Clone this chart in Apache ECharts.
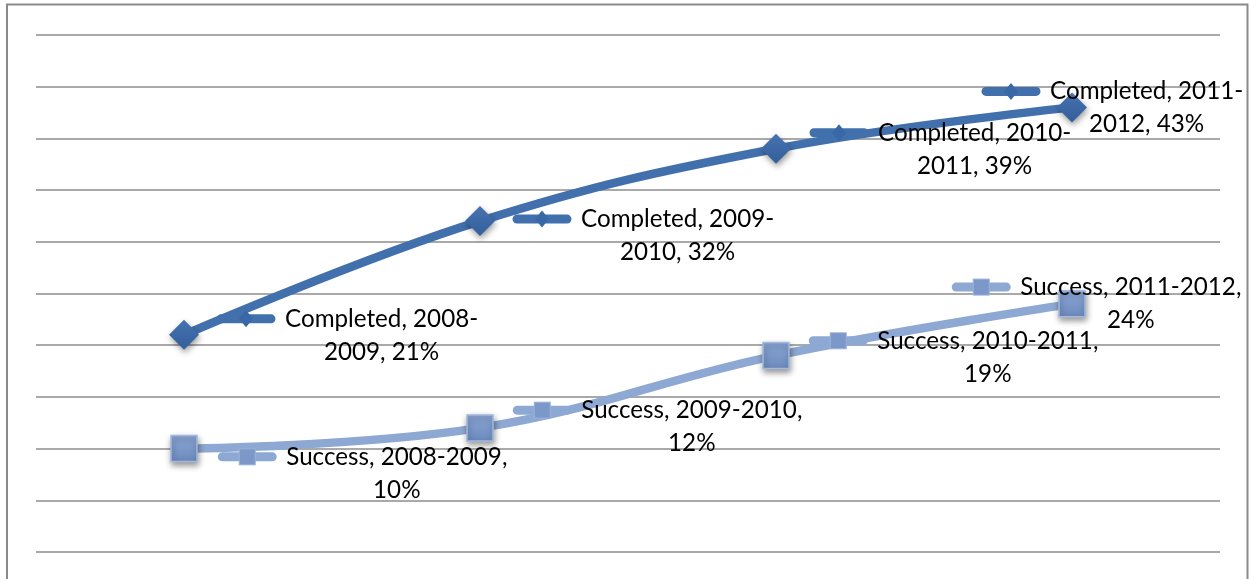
<!DOCTYPE html>
<html><head><meta charset="utf-8">
<script src="https://cdn.jsdelivr.net/npm/echarts@6.0.0/dist/echarts.min.js"></script>
<style>html,body{margin:0;padding:0;background:#fff}#c{width:1250px;height:579px}</style>
</head><body><div id="c"></div>
<script>
// ---- data ----
const categories = ['2008-2009', '2009-2010', '2010-2011', '2011-2012'];
const seriesNames = ['Completed', 'Success'];
const completedValues = [21, 32, 39, 43];
const successValues = [10, 12, 19, 24];
const yMin = 0, yMax = 50, yInterval = 5;

// ---- layout (label offsets from the point: key left edge x, first line centre y) ----
const completedLabelOffsets = [[31, -16], [31, -2], [32, -16], [-92, -16]];
const successLabelOffsets = [[33, 9], [32, -17], [32, -14], [-121, -16]];

const C_LINE = '#4170ad', C_MARK = '#3a68a6';
const S_LINE = '#8da8d2', S_MARK = '#7b98c9';
const FONT = 'Lato';
const FS = 24.2, LH = 33;
const C_SYM = 30, S_SYM = 26;

function svgUrl(s) { return 'data:image/svg+xml;charset=utf-8,' + encodeURIComponent(s); }
const keyCompleted = svgUrl('<svg xmlns="http://www.w3.org/2000/svg" width="62" height="20"><line x1="6" y1="10" x2="56" y2="10" stroke="' + C_LINE + '" stroke-width="9" stroke-linecap="round"/><polygon points="31,1.5 38,10 31,18.5 24,10" fill="' + C_MARK + '"/></svg>');
const keySuccess = svgUrl('<svg xmlns="http://www.w3.org/2000/svg" width="62" height="20"><line x1="6" y1="10" x2="56" y2="10" stroke="' + S_LINE + '" stroke-width="9" stroke-linecap="round"/><rect x="23" y="2" width="16" height="16" fill="' + S_MARK + '" stroke="#9bb2da" stroke-width="1"/></svg>');

function wrap(text, maxChars) {
  // break at spaces or after hyphens
  const parts = text.match(/[^ \-]+-?|\s+/g);
  const lines = []; let cur = '';
  parts.forEach(p => {
    if (/^\s+$/.test(p)) { cur += p; return; }
    if ((cur + p).trimEnd().length > maxChars && cur.trim().length) { lines.push(cur.trim()); cur = p; }
    else cur += p;
  });
  if (cur.trim().length) lines.push(cur.trim());
  return lines;
}

function makeLabel(name, keyTok) {
  return {
    show: true,
    formatter: function (p) {
      const lines = wrap(name + ', ' + categories[p.dataIndex] + ', ' + p.value + '%', 19);
      let s = '{' + keyTok + '|}{g|}{t|' + lines[0] + '}';
      for (let i = 1; i < lines.length; i++) s += '\n{sp|}{t|' + lines[i] + '}';
      return s;
    },
    align: 'left',
    verticalAlign: 'top',
    rich: {
      kc: { width: 62, height: 20, backgroundColor: { image: keyCompleted } },
      ks: { width: 62, height: 20, backgroundColor: { image: keySuccess } },
      g: { width: 8 },
      sp: { width: 70 },
      t: { fontFamily: FONT, fontSize: FS, lineHeight: LH, color: '#000', align: 'center' }
    }
  };
}

function buildData(values, offsets, sym) {
  return values.map((v, i) => ({
    value: v,
    label: { position: [sym / 2 + offsets[i][0], sym / 2 + offsets[i][1] - LH / 2] }
  }));
}

const chart = echarts.init(document.getElementById('c'), null, { renderer: 'canvas' });

chart.setOption({
  animation: false,
  backgroundColor: '#fff',
  grid: { left: 36, top: 35, width: 1184, height: 517, containLabel: false },
  xAxis: {
    type: 'category', data: categories, boundaryGap: true,
    axisLine: { show: false }, axisTick: { show: false }, axisLabel: { show: false }, splitLine: { show: false }
  },
  yAxis: {
    type: 'value', min: yMin, max: yMax, interval: yInterval,
    axisLine: { show: false }, axisTick: { show: false }, axisLabel: { show: false },
    splitLine: { show: true, lineStyle: { color: '#8c8c8c', width: 1.6 } }
  },
  graphic: [{
    type: 'rect', silent: true, z: 100,
    shape: { x: 7, y: 4.5, width: 1240.5, height: 700 },
    style: { fill: 'none', stroke: '#8a8a8a', lineWidth: 2 }
  }],
  series: [
    {
      name: seriesNames[0], type: 'line', smooth: 0.4,
      data: buildData(completedValues, completedLabelOffsets, C_SYM),
      symbol: 'diamond', symbolSize: C_SYM,
      lineStyle: { color: C_LINE, width: 8.5 },
      itemStyle: {
        color: new echarts.graphic.LinearGradient(0, 0, 0, 1, [{ offset: 0, color: '#4573b0' }, { offset: 1, color: '#335f9a' }]),
        shadowBlur: 6, shadowColor: 'rgba(0,0,0,0.4)', shadowOffsetX: 1, shadowOffsetY: 3
      },
      label: makeLabel(seriesNames[0], 'kc'),
      emphasis: { disabled: true }, z: 3
    },
    {
      name: seriesNames[1], type: 'line', smooth: 0.4,
      data: buildData(successValues, successLabelOffsets, S_SYM),
      symbol: 'rect', symbolSize: S_SYM,
      lineStyle: { color: S_LINE, width: 8.5 },
      itemStyle: {
        color: new echarts.graphic.LinearGradient(0, 0, 0, 1, [{ offset: 0, color: '#8aa6d4' }, { offset: 1, color: '#6c8abd' }]),
        borderColor: '#a3b9de', borderWidth: 1.5,
        shadowBlur: 6, shadowColor: 'rgba(0,0,0,0.4)', shadowOffsetX: 1, shadowOffsetY: 3
      },
      label: makeLabel(seriesNames[1], 'ks'),
      emphasis: { disabled: true }, z: 2
    }
  ]
});
</script></body></html>
